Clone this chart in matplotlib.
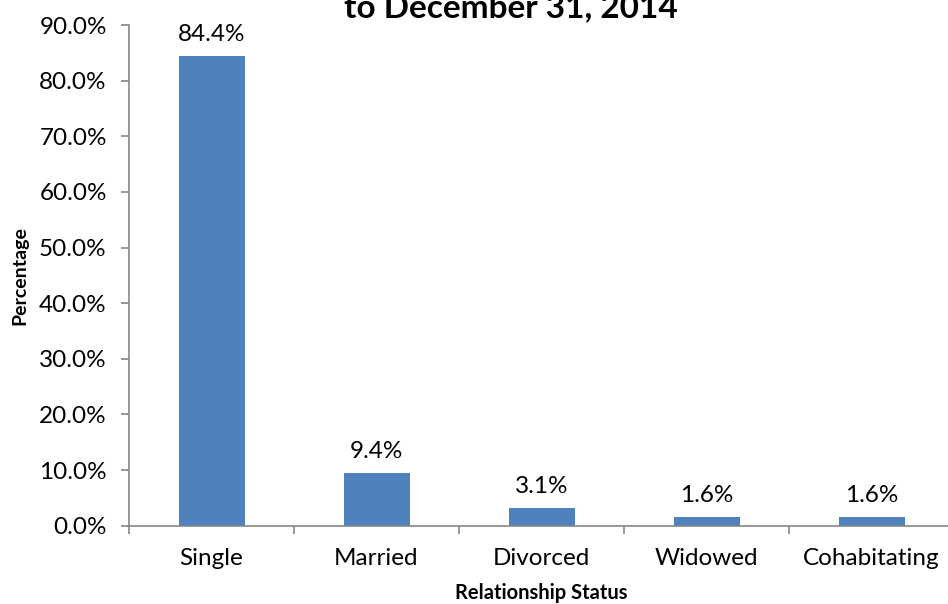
import matplotlib.pyplot as plt
import numpy as np

categories = ["Single", "Married", "Divorced", "Widowed", "Cohabitating"]
values = [84.4, 9.4, 3.1, 1.6, 1.6]
yticks = [0, 10, 20, 30, 40, 50, 60, 70, 80, 90]

plt.rcParams["font.family"] = ["Lato", "DejaVu Sans"]

fig = plt.figure(figsize=(9.48, 6.04), dpi=100)
ax = fig.add_axes([129 / 948, 78.3 / 604, 825 / 948, 500.7 / 604])

x = np.arange(len(categories))
ax.bar(x, values, width=0.4, color="#4F81BD")
for xi, v in zip(x, values):
    ax.annotate(f"{v:.1f}%", (xi, v), xytext=(0, 8), textcoords="offset points",
                ha="center", va="bottom", fontsize=17.5)

ax.set_xlim(-0.5, 4.5)
ax.set_ylim(0, 90)
ax.set_yticks(yticks)
ax.set_yticklabels([f"{t:.1f}%" for t in yticks], fontsize=17.5)
ax.set_xticks(x)
ax.set_xticklabels(categories, fontsize=17.5)
ax.set_xticks(np.arange(-0.5, 5, 1), minor=True)
ax.tick_params(axis="x", which="major", length=0, pad=16)
ax.tick_params(axis="x", which="minor", length=5.5, color="#868686", width=1.2)
ax.tick_params(axis="y", length=6, color="#868686", width=1.2, pad=10)

for s in ["top", "right"]:
    ax.spines[s].set_visible(False)
for s in ["left", "bottom"]:
    ax.spines[s].set_color("#868686")
    ax.spines[s].set_linewidth(1.2)

ax.set_xlabel("Relationship Status", fontsize=14.5, fontweight="bold", labelpad=10)
ax.set_ylabel("Percentage", fontsize=14, fontweight="bold", labelpad=8)

# title is cut off at the top edge in the original as well
fig.text(511 / 948, 1 - 17 / 604, "to December 31, 2014", ha="center", va="baseline",
         fontsize=24, fontweight="bold")

fig.savefig("out.png", dpi=100)
